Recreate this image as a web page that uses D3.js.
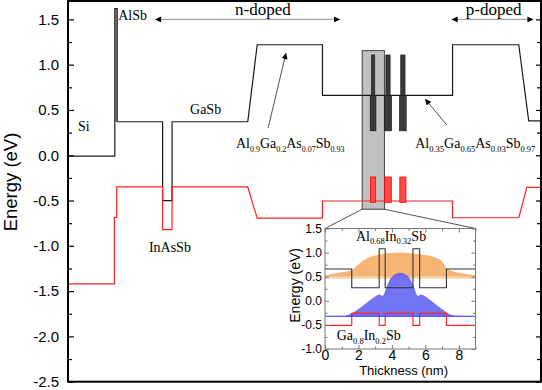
<!DOCTYPE html>
<html>
<head>
<meta charset="utf-8">
<script src="https://d3js.org/d3.v7.min.js"></script>
<style>
  body { margin: 0; background: #fff; }
  text { fill: #000; }
</style>
</head>
<body>
<script>
// ---- main band diagram: position in arbitrary units (0..100), energy in eV
var cbPos = [0, 9.9, 9.9, 10.4, 10.4, 20.0, 20.0, 22.0, 22.0, 38.0, 40.0, 53.8, 53.8, 81.3, 81.3, 95.3, 97.4, 100];
var cbEnergy = [-0.01, -0.01, 1.62, 1.62, 0.37, 0.37, -0.5, -0.5, 0.37, 0.37, 1.22, 1.22, 0.66, 0.66, 1.22, 1.22, 0.38, 0.38];
var vbPos = [0, 9.8, 9.8, 10.3, 10.3, 20.0, 20.0, 22.0, 22.0, 38.0, 40.0, 53.8, 53.8, 81.3, 81.3, 95.3, 97.0, 100];
var vbEnergy = [-1.42, -1.42, -0.685, -0.685, -0.35, -0.35, -0.82, -0.82, -0.35, -0.35, -0.695, -0.695, -0.505, -0.505, -0.69, -0.69, -0.355, -0.355];

// AlSb barrier
var alsb = {x0: 9.9, x1: 10.4, e0: 0.37, e1: 1.62};

// quantum well region (compressed view) and zoom box
var qwCenters = [64.5, 67.65, 70.8];
var qwBarrierHalf = [0.35, 0.45, 0.45];
var qwWellHalf = [0.6, 0.75, 0.7];
var qwLevels = {barrierTop: 1.107, mid: 0.66, wellBottom: 0.27, vbTop: -0.24, vbBottom: -0.52};
var zoomBox = {x0: 62.2, x1: 66.9, e0: -0.596, e1: 1.155};

var yTicksMajor = [-2.5, -2.0, -1.5, -1.0, -0.5, 0.0, 0.5, 1.0, 1.5];
var yTicksMinor = [-2.25, -1.75, -1.25, -0.75, -0.25, 0.25, 0.75, 1.25];

// ---- inset: thickness (nm) vs energy (eV)
var inPos = [0, 1.6, 1.6, 3.24, 3.24, 3.6, 3.6, 5.26, 5.26, 5.66, 5.66, 7.26, 7.26, 9];
var inCb = [0.66, 0.66, 0.27, 0.27, 1.08, 1.08, 0.27, 0.27, 1.08, 1.08, 0.27, 0.27, 0.66, 0.66];
var inVb = [-0.51, -0.51, -0.26, -0.26, -0.51, -0.51, -0.26, -0.26, -0.51, -0.51, -0.26, -0.26, -0.51, -0.51];

var elecPos = [0, 0.5, 1.0, 1.6, 2.0, 2.5, 3.0, 3.4, 4.0, 4.5, 5.0, 5.5, 6.0, 6.5, 7.0, 7.25, 7.6, 8.0, 8.5, 9.0];
var elecE = [0.53, 0.56, 0.59, 0.64, 0.76, 0.88, 0.94, 0.97, 0.99, 1.0, 0.99, 0.97, 0.95, 0.91, 0.82, 0.68, 0.62, 0.58, 0.55, 0.53];
var elecBase = 0.47;

var holePos = [0, 1.2, 1.6, 2.0, 2.5, 3.0, 3.25, 3.45, 3.7, 4.0, 4.5, 5.0, 5.3, 5.55, 5.75, 6.0, 6.5, 7.0, 7.4, 7.8, 9.0];
var holeE = [-0.32, -0.31, -0.26, -0.17, -0.04, 0.09, 0.13, 0.1, 0.3, 0.5, 0.58, 0.5, 0.3, 0.1, 0.13, 0.09, -0.04, -0.17, -0.27, -0.31, -0.32];
var holeBase = -0.32;

var inXTicks = [0, 2, 4, 6, 8];
var inXMinor = [1, 3, 5, 7, 9];
var inYTicks = [-1.0, -0.5, 0.0, 0.5, 1.0, 1.5];
var inYMinor = [-0.75, -0.25, 0.25, 0.75, 1.25];

var serif = "'Liberation Serif', 'Times New Roman', serif";
var sans = "'Liberation Sans', Arial, sans-serif";

var svg = d3.select("body").append("svg")
  .attr("width", 542)
  .attr("height", 390);

var x = d3.scaleLinear().domain([0, 100]).range([68, 541]);
var y = d3.scaleLinear().domain([-2.5, 1.703]).range([381.7, 1]);

var defs = svg.append("defs");
defs.append("marker")
  .attr("id", "arr")
  .attr("viewBox", "0 0 10 10")
  .attr("refX", 10).attr("refY", 5)
  .attr("markerUnits", "userSpaceOnUse")
  .attr("markerWidth", 8).attr("markerHeight", 6)
  .attr("orient", "auto-start-reverse")
  .append("path").attr("d", "M0,0L10,5L0,10z").attr("fill", "#000");

// axes (ticks pointing inward)
var fmt = function(d) { return d.toFixed(1); };
var left = svg.append("g").attr("transform", "translate(68,0)")
  .call(d3.axisLeft(y).tickValues(yTicksMajor).tickSize(-6).tickSizeOuter(0).tickPadding(9).tickFormat(fmt));
left.selectAll("text").style("font-family", sans).style("font-size", "15px");
svg.append("g").attr("transform", "translate(68,0)")
  .call(d3.axisLeft(y).tickValues(yTicksMinor).tickSize(-4).tickSizeOuter(0).tickFormat(""));
svg.append("g").attr("transform", "translate(541,0)")
  .call(d3.axisRight(y).tickValues(yTicksMajor).tickSize(-5).tickSizeOuter(0).tickFormat(""));
svg.append("g").attr("transform", "translate(541,0)")
  .call(d3.axisRight(y).tickValues(yTicksMinor).tickSize(-4).tickSizeOuter(0).tickFormat(""));
svg.selectAll(".domain").remove();
svg.selectAll(".tick line").attr("stroke", "#000").attr("stroke-width", 1.2);

svg.append("text")
  .attr("transform", "translate(16.5,182) rotate(-90)")
  .attr("text-anchor", "middle")
  .style("font-family", sans).style("font-size", "18.5px")
  .text("Energy (eV)");

// zoom box behind the bands
svg.append("rect")
  .attr("x", x(zoomBox.x0)).attr("y", y(zoomBox.e1))
  .attr("width", x(zoomBox.x1) - x(zoomBox.x0))
  .attr("height", y(zoomBox.e0) - y(zoomBox.e1))
  .attr("fill", "#c0c0c0").attr("stroke", "#444").attr("stroke-width", 1);

// AlSb barrier fill
svg.append("rect")
  .attr("x", x(alsb.x0)).attr("y", y(alsb.e1))
  .attr("width", x(alsb.x1) - x(alsb.x0))
  .attr("height", y(alsb.e0) - y(alsb.e1))
  .attr("fill", "#999");

var line = d3.line().x(function(d) { return x(d[0]); }).y(function(d) { return y(d[1]); });

svg.append("path")
  .datum(d3.zip(cbPos, cbEnergy))
  .attr("d", line)
  .attr("fill", "none").attr("stroke", "#1a1a1a").attr("stroke-width", 1.2);

svg.append("path")
  .datum(d3.zip(vbPos, vbEnergy))
  .attr("d", line)
  .attr("fill", "none").attr("stroke", "#ff2020").attr("stroke-width", 1.2);

// compressed quantum-well bars
var qw = svg.append("g");
qwCenters.forEach(function(c, i) {
  qw.append("rect")
    .attr("x", x(c - qwBarrierHalf[i])).attr("y", y(qwLevels.barrierTop))
    .attr("width", x(c + qwBarrierHalf[i]) - x(c - qwBarrierHalf[i]))
    .attr("height", y(qwLevels.mid) - y(qwLevels.barrierTop))
    .attr("fill", "#3a3a3a").attr("stroke", "#1a1a1a").attr("stroke-width", 0.7);
  qw.append("rect")
    .attr("x", x(c - qwWellHalf[i])).attr("y", y(qwLevels.mid))
    .attr("width", x(c + qwWellHalf[i]) - x(c - qwWellHalf[i]))
    .attr("height", y(qwLevels.wellBottom) - y(qwLevels.mid))
    .attr("fill", "#3a3a3a").attr("stroke", "#1a1a1a").attr("stroke-width", 0.7);
  qw.append("rect")
    .attr("x", x(c - qwWellHalf[i] + 0.05)).attr("y", y(qwLevels.vbTop))
    .attr("width", x(c + qwWellHalf[i] - 0.05) - x(c - qwWellHalf[i] + 0.05))
    .attr("height", y(qwLevels.vbBottom) - y(qwLevels.vbTop))
    .attr("fill", "#ff4a4a").attr("stroke", "#ff0000").attr("stroke-width", 0.8);
});

// frame
svg.append("rect")
  .attr("x", 68).attr("y", 1).attr("width", 473).attr("height", 380.7)
  .attr("fill", "none").attr("stroke", "#000").attr("stroke-width", 2);

// ---- inset
var xi = d3.scaleLinear().domain([0, 9]).range([325, 475.5]);
var yi = d3.scaleLinear().domain([-1, 1.5]).range([349, 228.5]);

// connector lines from the zoom box to the inset
svg.append("line")
  .attr("x1", x(zoomBox.x0)).attr("y1", y(zoomBox.e0))
  .attr("x2", xi(0)).attr("y2", yi(1.5))
  .attr("stroke", "#555").attr("stroke-width", 1);
svg.append("line")
  .attr("x1", x(zoomBox.x1)).attr("y1", y(zoomBox.e0))
  .attr("x2", xi(9)).attr("y2", yi(1.5))
  .attr("stroke", "#555").attr("stroke-width", 1);

var ins = svg.append("g");
ins.append("rect")
  .attr("x", xi(0)).attr("y", yi(1.5))
  .attr("width", xi(9) - xi(0)).attr("height", yi(-1) - yi(1.5))
  .attr("fill", "#fff");

var areaE = d3.area().curve(d3.curveMonotoneX)
  .x(function(d) { return xi(d[0]); })
  .y0(yi(elecBase))
  .y1(function(d) { return yi(d[1]); });
ins.append("path")
  .datum(d3.zip(elecPos, elecE))
  .attr("d", areaE)
  .attr("fill", "#f6b574");
ins.append("line")
  .attr("x1", xi(0)).attr("x2", xi(9))
  .attr("y1", yi(elecBase + 0.015)).attr("y2", yi(elecBase + 0.015))
  .attr("stroke", "#fad2ac").attr("stroke-width", 2);

var areaH = d3.area().curve(d3.curveMonotoneX)
  .x(function(d) { return xi(d[0]); })
  .y0(yi(holeBase))
  .y1(function(d) { return yi(d[1]); });
ins.append("path")
  .datum(d3.zip(holePos, holeE))
  .attr("d", areaH)
  .attr("fill", "#5b5bf5").attr("fill-opacity", 0.85);

var lineI = d3.line().x(function(d) { return xi(d[0]); }).y(function(d) { return yi(d[1]); });
ins.append("path")
  .datum(d3.zip(inPos, inVb))
  .attr("d", lineI)
  .attr("fill", "none").attr("stroke", "#ff2020").attr("stroke-width", 1.1);
ins.append("path")
  .datum(d3.zip(inPos, inCb))
  .attr("d", lineI)
  .attr("fill", "none").attr("stroke", "#333").attr("stroke-width", 1.1);
ins.append("line")
  .attr("x1", xi(0)).attr("x2", xi(9))
  .attr("y1", yi(holeBase)).attr("y2", yi(holeBase))
  .attr("stroke", "#3535ff").attr("stroke-width", 1.1);

// inset axes
var ax = ins.append("g");
var il = ax.append("g").attr("transform", "translate(" + xi(0) + ",0)")
  .call(d3.axisLeft(yi).tickValues(inYTicks).tickSize(-4).tickSizeOuter(0).tickPadding(3).tickFormat(fmt));
il.selectAll("text").style("font-family", sans).style("font-size", "12px");
ax.append("g").attr("transform", "translate(" + xi(0) + ",0)")
  .call(d3.axisLeft(yi).tickValues(inYMinor).tickSize(-2.5).tickSizeOuter(0).tickFormat(""));
ax.append("g").attr("transform", "translate(" + xi(9) + ",0)")
  .call(d3.axisRight(yi).tickValues(inYTicks).tickSize(-4).tickSizeOuter(0).tickFormat(""));
ax.append("g").attr("transform", "translate(" + xi(9) + ",0)")
  .call(d3.axisRight(yi).tickValues(inYMinor).tickSize(-2.5).tickSizeOuter(0).tickFormat(""));
var ib = ax.append("g").attr("transform", "translate(0," + yi(-1) + ")")
  .call(d3.axisBottom(xi).tickValues(inXTicks).tickSize(-4).tickSizeOuter(0).tickPadding(1).tickFormat(d3.format("d")));
ib.selectAll("text").style("font-family", sans).style("font-size", "14px");
ax.append("g").attr("transform", "translate(0," + yi(-1) + ")")
  .call(d3.axisBottom(xi).tickValues(inXMinor).tickSize(-2.5).tickSizeOuter(0).tickFormat(""));
ax.append("g").attr("transform", "translate(0," + yi(1.5) + ")")
  .call(d3.axisTop(xi).tickValues(inXTicks).tickSize(-4).tickSizeOuter(0).tickFormat(""));
ax.append("g").attr("transform", "translate(0," + yi(1.5) + ")")
  .call(d3.axisTop(xi).tickValues(inXMinor).tickSize(-2.5).tickSizeOuter(0).tickFormat(""));
ax.selectAll(".domain").remove();
ax.selectAll(".tick line").attr("stroke", "#777");
ins.append("rect")
  .attr("x", xi(0)).attr("y", yi(1.5))
  .attr("width", xi(9) - xi(0)).attr("height", yi(-1) - yi(1.5))
  .attr("fill", "none").attr("stroke", "#777").attr("stroke-width", 1);

ins.append("text")
  .attr("transform", "translate(300," + yi(0.32) + ") rotate(-90)")
  .attr("text-anchor", "middle")
  .style("font-family", sans).style("font-size", "14px")
  .text("Energy (eV)");
ins.append("text")
  .attr("x", xi(4.7)).attr("y", 375)
  .attr("text-anchor", "middle")
  .style("font-family", sans).style("font-size", "13px")
  .text("Thickness (nm)");

// ---- labels
function formula(px, py, parts, size, sub) {
  var t = svg.append("text").attr("x", px).attr("y", py)
    .style("font-family", serif);
  var shift = size * 0.28;
  parts.forEach(function(p, i) {
    t.append("tspan").attr("dy", i === 0 ? 0 : -shift).style("font-size", size + "px").text(p[0]);
    t.append("tspan").attr("dy", shift).style("font-size", sub + "px").text(p[1]);
  });
}

var plainLabels = [
  {text: "Si", u: 2.1, e: 0.27},
  {text: "AlSb", u: 10.6, e: 1.49},
  {text: "GaSb", u: 25.8, e: 0.456},
  {text: "InAsSb", u: 17.1, e: -1.067}
];
plainLabels.forEach(function(l) {
  svg.append("text").attr("x", x(l.u)).attr("y", y(l.e))
    .style("font-family", serif).style("font-size", "14px").text(l.text);
});

svg.append("text").attr("x", x(35.3)).attr("y", y(1.549))
  .style("font-family", serif).style("font-size", "17px").text("n-doped");
svg.append("text").attr("x", x(84.1)).attr("y", y(1.549))
  .style("font-family", serif).style("font-size", "17px").text("p-doped");

// doping range arrows
var ranges = [[18.4, 57.5], [81.1, 98.4]];
ranges.forEach(function(r) {
  svg.append("line")
    .attr("x1", x(r[0])).attr("x2", x(r[1]))
    .attr("y1", y(1.5)).attr("y2", y(1.5))
    .attr("stroke", "#777").attr("stroke-width", 0.8)
    .attr("marker-start", "url(#arr)").attr("marker-end", "url(#arr)");
});

// pointer arrows to the barriers
var pointers = [[42.3, 0.30, 46.1, 1.13], [80.1, 0.333, 75.5, 0.62]];
pointers.forEach(function(p) {
  svg.append("line")
    .attr("x1", x(p[0])).attr("y1", y(p[1]))
    .attr("x2", x(p[2])).attr("y2", y(p[3]))
    .attr("stroke", "#222").attr("stroke-width", 0.8)
    .attr("marker-end", "url(#arr)");
});

formula(x(35.5), y(0.08), [["Al", "0.9"], ["Ga", "0.2"], ["As", "0.07"], ["Sb", "0.93"]], 14, 8);
formula(x(73.4), y(0.08), [["Al", "0.35"], ["Ga", "0.65"], ["As", "0.03"], ["Sb", "0.97"]], 14, 8.5);
formula(xi(1.85), yi(1.25), [["Al", "0.68"], ["In", "0.32"], ["Sb", ""]], 14, 8.5);
formula(xi(0.7), yi(-0.82), [["Ga", "0.8"], ["In", "0.2"], ["Sb", ""]], 14, 8.5);
</script>
</body>
</html>
